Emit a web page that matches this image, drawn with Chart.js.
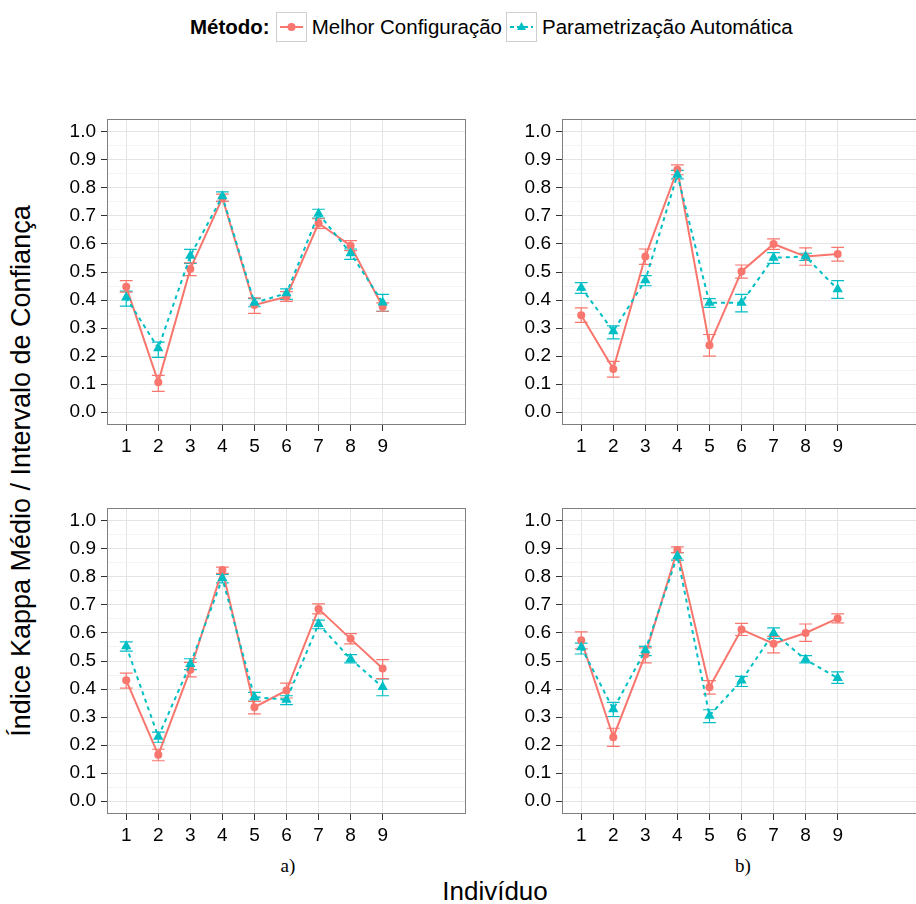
<!DOCTYPE html>
<html lang="pt">
<head>
<meta charset="utf-8">
<title>Índice Kappa Médio por Indivíduo</title>
<script src="https://cdn.jsdelivr.net/npm/chart.js@4.4.1/dist/chart.umd.min.js"></script>
<style>
  html, body { margin: 0; padding: 0; background: #fff; }
  body { position: relative; width: 916px; height: 904px; overflow: hidden;
         font-family: 'Liberation Sans', Arial, sans-serif; color: #000; }
  canvas { position: absolute; }
  #legenda { position: absolute; left: 190px; top: 12px; height: 30px;
             display: flex; align-items: center; font-size: 20.5px; white-space: nowrap; }
  #legenda b { margin-right: 6px; }
  #legenda .chave { width: 29px; height: 28px; border: 1px solid #cfcfcf; margin-right: 5px; }
  #legenda .chave svg { display: block; }
  #legenda .txt { margin-right: 4px; }
  .titulo-y { position: absolute; left: 21px; top: 471px; font-size: 27px; white-space: nowrap;
              transform: translate(-50%, -50%) rotate(-90deg); }
  .titulo-x { position: absolute; left: 495px; top: 891px; font-size: 26px;
              transform: translate(-50%, -50%); white-space: nowrap; }
  .sub { position: absolute; top: 866px; font-family: 'Liberation Serif', 'Times New Roman', serif;
         font-size: 19px; transform: translate(-50%, -50%); }
</style>
</head>
<body>

<div id="legenda">
  <b>Método:</b>
  <span class="chave"><svg width="29" height="28"><line x1="3" y1="14" x2="26" y2="14" stroke="#F8766D" stroke-width="2"/><circle cx="14.5" cy="14" r="4" fill="#F8766D"/></svg></span>
  <span class="txt">Melhor Configuração</span>
  <span class="chave"><svg width="29" height="28"><line x1="3" y1="14" x2="26" y2="14" stroke="#00BFC4" stroke-width="2" stroke-dasharray="4,3"/><polygon points="14.5,9 19,17 10,17" fill="#00BFC4"/></svg></span>
  <span class="txt">Parametrização Automática</span>
</div>

<canvas id="painelA1" width="420" height="350" style="left:57px; top:109px;"></canvas>
<canvas id="painelB1" width="420" height="350" style="left:512px; top:109px;"></canvas>
<canvas id="painelA2" width="420" height="350" style="left:57px; top:498px;"></canvas>
<canvas id="painelB2" width="420" height="350" style="left:512px; top:498px;"></canvas>

<div class="titulo-y">Índice Kappa Médio / Intervalo de Confiança</div>
<div class="titulo-x">Indivíduo</div>
<div class="sub" style="left:288px;">a)</div>
<div class="sub" style="left:743px;">b)</div>

<script>
// Dados dos graficos
const individuos = [1, 2, 3, 4, 5, 6, 7, 8, 9];
const yTicks = [0, 0.1, 0.2, 0.3, 0.4, 0.5, 0.6, 0.7, 0.8, 0.9, 1.0];
const yTickLabels = ['0.0', '0.1', '0.2', '0.3', '0.4', '0.5', '0.6', '0.7', '0.8', '0.9', '1.0'];

// painel de cima, esquerda
const melhorA1 = [0.447, 0.107, 0.511, 0.764, 0.382, 0.412, 0.674, 0.594, 0.376];
const melhorA1_inf = [0.428, 0.074, 0.487, 0.752, 0.352, 0.395, 0.656, 0.576, 0.360];
const melhorA1_sup = [0.469, 0.131, 0.533, 0.778, 0.408, 0.430, 0.690, 0.612, 0.390];
const autoA1 = [0.409, 0.228, 0.558, 0.770, 0.390, 0.424, 0.708, 0.567, 0.391];
const autoA1_inf = [0.378, 0.195, 0.531, 0.752, 0.376, 0.402, 0.692, 0.545, 0.360];
const autoA1_sup = [0.432, 0.250, 0.581, 0.786, 0.405, 0.440, 0.724, 0.582, 0.420];

// painel de cima, direita
const melhorB1 = [0.346, 0.154, 0.555, 0.865, 0.239, 0.502, 0.600, 0.555, 0.564];
const melhorB1_inf = [0.320, 0.125, 0.527, 0.847, 0.200, 0.478, 0.581, 0.524, 0.539];
const melhorB1_sup = [0.372, 0.181, 0.582, 0.882, 0.277, 0.525, 0.618, 0.586, 0.588];
const autoB1 = [0.444, 0.289, 0.471, 0.847, 0.390, 0.390, 0.551, 0.555, 0.438];
const autoB1_inf = [0.424, 0.261, 0.451, 0.832, 0.374, 0.358, 0.531, 0.541, 0.406];
const autoB1_sup = [0.462, 0.308, 0.487, 0.863, 0.405, 0.420, 0.569, 0.567, 0.469];

// painel de baixo, esquerda (a)
const melhorA2 = [0.431, 0.165, 0.469, 0.825, 0.335, 0.395, 0.686, 0.579, 0.473];
const melhorA2_inf = [0.403, 0.144, 0.443, 0.813, 0.311, 0.368, 0.668, 0.561, 0.437];
const melhorA2_sup = [0.457, 0.185, 0.495, 0.835, 0.356, 0.421, 0.704, 0.598, 0.505];
const autoA2 = [0.553, 0.230, 0.489, 0.795, 0.371, 0.362, 0.632, 0.507, 0.407];
const autoA2_inf = [0.535, 0.210, 0.469, 0.779, 0.356, 0.344, 0.615, 0.493, 0.376];
const autoA2_sup = [0.568, 0.246, 0.508, 0.809, 0.388, 0.376, 0.646, 0.523, 0.436];

// painel de baixo, direita (b)
const melhorB2 = [0.574, 0.228, 0.523, 0.896, 0.406, 0.612, 0.562, 0.600, 0.652];
const melhorB2_inf = [0.543, 0.195, 0.493, 0.887, 0.382, 0.591, 0.529, 0.570, 0.636];
const melhorB2_sup = [0.604, 0.260, 0.547, 0.907, 0.430, 0.634, 0.588, 0.632, 0.668];
const autoB2 = [0.549, 0.328, 0.538, 0.875, 0.305, 0.430, 0.600, 0.505, 0.439];
const autoB2_inf = [0.525, 0.302, 0.519, 0.860, 0.280, 0.409, 0.581, 0.493, 0.420];
const autoB2_sup = [0.564, 0.352, 0.552, 0.887, 0.326, 0.445, 0.618, 0.519, 0.461];

const corMelhor = '#F8766D';
const corAuto = '#00BFC4';

Chart.defaults.font.family = "'Liberation Sans', Arial, sans-serif";
Chart.defaults.color = '#000';

// barras de erro (intervalo de confianca), desenhadas pelas escalas do grafico
const barrasErro = {
    id: 'barrasErro',
    beforeDatasetsDraw(chart) {
        const ctx = chart.ctx;
        const xs = chart.scales.x, ys = chart.scales.y;
        chart.data.datasets.forEach(ds => {
            ctx.save();
            ctx.strokeStyle = ds.borderColor;
            ctx.lineWidth = 1.2;
            ds.data.forEach((p, i) => {
                const x = xs.getPixelForValue(p.x);
                const x0 = xs.getPixelForValue(p.x - 0.2);
                const x1 = xs.getPixelForValue(p.x + 0.2);
                const yl = ys.getPixelForValue(ds.inf[i]);
                const yh = ys.getPixelForValue(ds.sup[i]);
                ctx.beginPath();
                ctx.moveTo(x, yl); ctx.lineTo(x, yh);
                ctx.moveTo(x0, yl); ctx.lineTo(x1, yl);
                ctx.moveTo(x0, yh); ctx.lineTo(x1, yh);
                ctx.stroke();
            });
            ctx.restore();
        });
    },
    afterDatasetsDraw(chart) {
        // borda do painel
        const a = chart.chartArea, ctx = chart.ctx;
        ctx.save();
        ctx.strokeStyle = '#7F7F7F';
        ctx.lineWidth = 1;
        ctx.strokeRect(a.left + 0.5, a.top + 0.5, a.right - a.left - 1, a.bottom - a.top - 1);
        ctx.restore();
    }
};

function semPadding(scale) {
    scale.paddingTop = 0; scale.paddingBottom = 0;
    scale.paddingLeft = 0; scale.paddingRight = 0;
}

function desenhaPainel(id, melhor, melhorInf, melhorSup, auto, autoInf, autoSup) {
    const ctx = document.getElementById(id);
    return new Chart(ctx, {
        type: 'line',
        data: {
            datasets: [
                {
                    label: 'Parametrização Automática',
                    data: individuos.map((x, i) => ({ x: x, y: auto[i] })),
                    inf: autoInf, sup: autoSup,
                    borderColor: corAuto,
                    backgroundColor: corAuto,
                    borderWidth: 2,
                    borderDash: [4, 4],
                    pointStyle: 'triangle',
                    pointRadius: 6,
                    pointBorderWidth: 0,
                    tension: 0,
                    order: 0
                },
                {
                    label: 'Melhor Configuração',
                    data: individuos.map((x, i) => ({ x: x, y: melhor[i] })),
                    inf: melhorInf, sup: melhorSup,
                    borderColor: corMelhor,
                    backgroundColor: corMelhor,
                    borderWidth: 2,
                    pointStyle: 'circle',
                    pointRadius: 4,
                    pointBorderWidth: 0,
                    tension: 0,
                    order: 1
                }
            ]
        },
        options: {
            responsive: false,
            animation: false,
            events: [],
            layout: { padding: { top: 10, right: 11, left: 0, bottom: 0 } },
            plugins: { legend: { display: false }, tooltip: { enabled: false } },
            scales: {
                x: {
                    type: 'linear',
                    min: 0.4,
                    max: 11.6,
                    afterBuildTicks: s => { s.ticks = individuos.map(v => ({ value: v })); },
                    afterFit: s => { s.height = 34; semPadding(s); },
                    border: { display: false },
                    grid: { color: '#E4E4E4', tickColor: '#333', tickLength: 6, lineWidth: 1 },
                    ticks: { autoSkip: false, maxRotation: 0, padding: 4, font: { size: 19 },
                             callback: v => String(v) }
                },
                y: {
                    type: 'linear',
                    min: -0.046,
                    max: 1.046,
                    afterBuildTicks: s => {
                        const t = [];
                        yTicks.forEach((v, i) => {
                            t.push({ value: v, rotulo: yTickLabels[i] });
                            if (i < yTicks.length - 1) t.push({ value: (v + yTicks[i + 1]) / 2, rotulo: '' });
                        });
                        s.ticks = t;
                    },
                    afterFit: s => { s.width = 50; semPadding(s); },
                    border: { display: false },
                    grid: {
                        color: c => (c.tick && c.tick.label === '') ? '#F3F3F3' : '#E4E4E4',
                        tickColor: c => (c.tick && c.tick.label === '') ? 'rgba(0,0,0,0)' : '#333',
                        tickLength: 6,
                        lineWidth: 1
                    },
                    ticks: { autoSkip: false, padding: 5, font: { size: 19 },
                             callback: (v, i, t) => t[i].rotulo }
                }
            }
        },
        plugins: [barrasErro]
    });
}

desenhaPainel('painelA1', melhorA1, melhorA1_inf, melhorA1_sup, autoA1, autoA1_inf, autoA1_sup);
desenhaPainel('painelB1', melhorB1, melhorB1_inf, melhorB1_sup, autoB1, autoB1_inf, autoB1_sup);
desenhaPainel('painelA2', melhorA2, melhorA2_inf, melhorA2_sup, autoA2, autoA2_inf, autoA2_sup);
desenhaPainel('painelB2', melhorB2, melhorB2_inf, melhorB2_sup, autoB2, autoB2_inf, autoB2_sup);
</script>
</body>
</html>
